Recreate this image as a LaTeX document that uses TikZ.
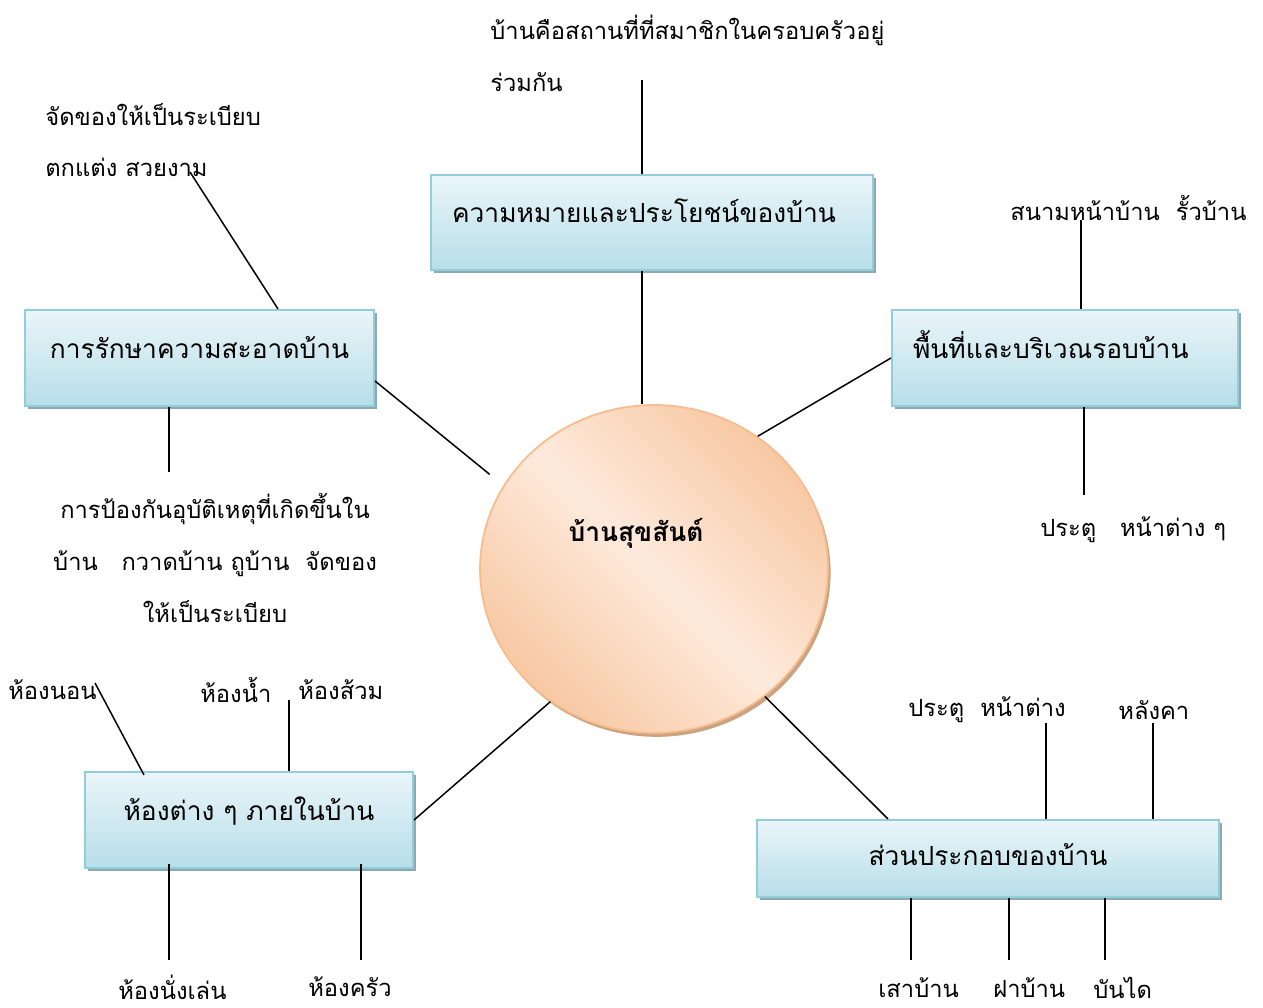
\documentclass[tikz,border=0pt]{standalone}
\usepackage{fontspec}
\setmainfont[Script=Thai]{Loma}
\usepackage{xcolor}
\usepackage{tikz}
\usetikzlibrary{shapes, shadows, calc, positioning}

\definecolor{boxline}{RGB}{146,205,220}
\definecolor{boxtop}{RGB}{234,245,249}
\definecolor{boxbottom}{RGB}{183,222,232}
\definecolor{boxshade}{RGB}{143,168,176}
\definecolor{hubline}{RGB}{246,188,142}
\definecolor{hubdark}{RGB}{248,200,163}
\definecolor{hublight}{RGB}{253,234,220}
\definecolor{hubshade}{RGB}{204,163,128}

\begin{document}
\begin{tikzpicture}[x=0.02cm, y=-0.02cm]
		\tikzstyle{topic}=[draw=boxline, line width=1.2pt, top color=boxtop, bottom color=boxbottom, general shadow={fill=boxshade, shadow xshift=1.7pt, shadow yshift=-1.7pt}, inner sep=0pt, text height=11pt, text depth=11pt, font=\fontsize{15}{18}\selectfont]
		\tikzstyle{hub}=[ellipse, draw=hubline, line width=1pt, left color=hubdark, right color=hubdark, middle color=hublight, shading angle=-45, general shadow={fill=hubshade, shadow xshift=1.5pt, shadow yshift=-2.2pt}, inner sep=0pt]
		\tikzstyle{leaf}=[inner sep=0pt, anchor=west, font=\fontsize{13.5}{29.5}\selectfont]
		\tikzstyle{link}=[draw=black, line width=0.85pt]
		
		\useasboundingbox (0,0) rectangle (1263,1007);
		
		% centre
		\node (home) at (654,569) [hub, minimum width=6.96cm, minimum height=6.56cm] {};
		\node (hometext) at (636,533) [font=\bfseries\fontsize{15}{18}\selectfont] {บ้านสุขสันต์};
		
		% the five topics
		\node (meaning) at (652,222.5) [topic, minimum width=8.84cm, minimum height=1.9cm, text width=8.0cm, align=left] {ความหมายและประโยชน์ของบ้าน};
		\node (cleaning) at (199.5,358) [topic, minimum width=6.98cm, minimum height=1.92cm] {การรักษาความสะอาดบ้าน};
		\node (area) at (1065,358) [topic, minimum width=6.92cm, minimum height=1.92cm, text width=6.08cm, align=left] {พื้นที่และบริเวณรอบบ้าน};
		\node (rooms) at (249,820) [topic, minimum width=6.56cm, minimum height=1.92cm] {ห้องต่าง ๆ ภายในบ้าน};
		\node (parts) at (988,858.5) [topic, minimum width=9.24cm, minimum height=1.54cm, text height=15pt, text depth=7pt] {ส่วนประกอบของบ้าน};
		
		% labels
		\node (meaningA) at (490,30) [leaf] {บ้านคือสถานที่ที่สมาชิกในครอบครัวอยู่};
		\node (meaningB) at (490,82) [leaf] {ร่วมกัน};
		\node (tidyA) at (45,115) [leaf] {จัดของให้เป็นระเบียบ};
		\node (tidyB) at (45,167) [leaf] {ตกแต่ง สวยงาม};
		\node (safety) at (215,558) [leaf, anchor=center, align=center] {การป้องกันอุบัติเหตุที่เกิดขึ้นใน\\บ้าน\quad กวาดบ้าน ถูบ้าน\ \ จัดของ\\ให้เป็นระเบียบ};
		\node (yard) at (1010,208) [leaf] {สนามหน้าบ้าน\ \ รั้วบ้าน};
		\node (door) at (1040,530) [leaf] {ประตู\quad หน้าต่าง ๆ};
		\node (bedroom) at (8,690) [leaf] {ห้องนอน};
		\node (bathroom) at (200,690) [leaf] {ห้องน้ำ};
		\node (toilet) at (298,690) [leaf] {ห้องส้วม};
		\node (living) at (118,987) [leaf] {ห้องนั่งเล่น};
		\node (kitchen) at (308,987) [leaf] {ห้องครัว};
		\node (window) at (908,710) [leaf] {ประตู\ \ หน้าต่าง};
		\node (roof) at (1118,710) [leaf] {หลังคา};
		\node (pillar) at (878,988) [leaf] {เสาบ้าน};
		\node (wall) at (993,988) [leaf] {ฝาบ้าน};
		\node (stairs) at (1093,988) [leaf] {บันได};
		
		% free ends
		\coordinate (meaningEnd) at (642,80);
		\coordinate (tidyEnd) at (190,172);
		\coordinate (safetyEnd) at (169,472);
		\coordinate (yardEnd) at (1081,220);
		\coordinate (doorEnd) at (1084,495);
		\coordinate (bedroomEnd) at (95,683);
		\coordinate (toiletEnd) at (289,700);
		\coordinate (livingEnd) at (169,960);
		\coordinate (kitchenEnd) at (361,960);
		\coordinate (windowEnd) at (1046,723);
		\coordinate (roofEnd) at (1153,723);
		\coordinate (pillarEnd) at (911,960);
		\coordinate (wallEnd) at (1009,960);
		\coordinate (stairsEnd) at (1105,960);
		
		% centre to topics
		\draw[link] (meaning.south -| meaningEnd) -- (home.north -| meaningEnd);
		\draw[link, shorten >=10pt] ($(cleaning.east)+(0,23)$) -- (home.151);
		\draw[link] (area.west) -- (home.52);
		\draw[link] (rooms.east) -- (home.232);
		\draw[link] ($(parts.north)+(-100,0)$) -- (home.311);
		
		% topics to labels
		\draw[link] (meaning.north -| meaningEnd) -- (meaningEnd);
		\draw[link] ($(cleaning.north)+(78.5,0)$) -- (tidyEnd);
		\draw[link] (cleaning.south -| safetyEnd) -- (safetyEnd);
		\draw[link] (area.north -| yardEnd) -- (yardEnd);
		\draw[link] (area.south -| doorEnd) -- (doorEnd);
		\draw[link] ($(rooms.north west)+(60,4)$) -- (bedroomEnd);
		\draw[link] (rooms.north -| toiletEnd) -- (toiletEnd);
		\draw[link] ($(rooms.south -| livingEnd)+(0,-5)$) -- (livingEnd);
		\draw[link] ($(rooms.south -| kitchenEnd)+(0,-5)$) -- (kitchenEnd);
		\draw[link] (parts.north -| windowEnd) -- (windowEnd);
		\draw[link] (parts.north -| roofEnd) -- (roofEnd);
		\draw[link] (parts.south -| pillarEnd) -- (pillarEnd);
		\draw[link] (parts.south -| wallEnd) -- (wallEnd);
		\draw[link] (parts.south -| stairsEnd) -- (stairsEnd);
		
		\end{tikzpicture}
\end{document}
